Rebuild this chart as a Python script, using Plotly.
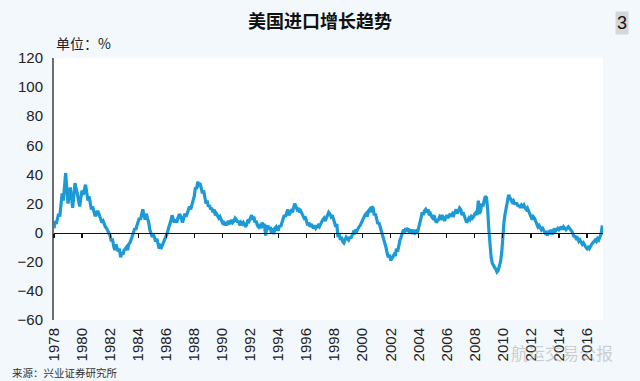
import plotly.graph_objects as go
import pandas as pd

# Monthly YoY growth of US imports (%), Jan 1978 onward
start_month = "1978-01-01"
growth = [
    3, 8, 6, 10, 13, 11, 18, 27, 22, 35, 41, 30,          # 1978
    20, 28, 31, 24, 17, 25, 34, 30, 27, 22, 18, 24,       # 1979
    29, 26, 31, 33, 28, 22, 25, 20, 16, 18, 14, 12,       # 1980
    12, 15, 14, 11, 9, 7, 8, 5, 4, 3, 1, 0,               # 1981
    -2, -6, -4, -9, -12, -8, -10, -13, -11, -17, -14, -15,  # 1982
    -12, -11, -10, -12, -8, -7, -5, -3, 0, 3, 2, 5,       # 1983
    7, 10, 9, 13, 16, 12, 9, 13, 10, 7, 2, 0,             # 1984
    -3, -1, -4, -6, -4, -8, -11, -9, -10, -8, -6, -5,     # 1985
    -3, 0, 3, 5, 8, 12, 10, 7, 9, 7, 10, 12,              # 1986
    12, 9, 7, 10, 13, 11, 13, 15, 18, 16, 19, 20,         # 1987
    25, 31, 30, 35, 33, 34, 31, 27, 29, 25, 20, 22,       # 1988
    18, 19, 16, 17, 14, 16, 12, 13, 11, 10, 11, 9,        # 1989
    7, 8, 5, 7, 5, 8, 7, 6, 9, 7, 8, 10,                  # 1990
    9, 7, 8, 5, 7, 6, 7, 5, 4, 6, 9, 8,                   # 1991
    10, 12, 9, 11, 7, 8, 5, 4, 6, 3, 7, 5,                # 1992
    6, -2, 3, 5, 2, 4, 0, 3, -1, 3, 4, 2,                 # 1993
    2, 5, 4, 7, 9, 12, 11, 14, 16, 12, 14, 15,            # 1994
    14, 17, 20, 18, 16, 17, 14, 15, 13, 12, 10, 11,       # 1995
    8, 5, 7, 4, 6, 4, 3, 5, 3, 4, 5, 4,                   # 1996
    6, 7, 9, 10, 8, 10, 12, 14, 13, 11, 12, 10,           # 1997
    7, 4, 6, -3, -1, -5, -3, -6, -7, -5, -3, -4,          # 1998
    -5, -3, -4, -2, 0, -1, 2, 1, 3, 4, 5, 7,              # 1999
    9, 10, 12, 13, 11, 15, 16, 14, 18, 17, 12, 13,        # 2000
    9, 6, 7, 4, 2, 0, -4, -6, -10, -14, -17, -15,         # 2001
    -19, -18, -17, -15, -16, -11, -13, -8, -5, -3, 0, 2,  # 2002
    1, 3, 2, 3, 0, 1, 2, -1, 2, 0, 1, 0,                  # 2003
    3, 7, 10, 14, 12, 15, 16, 14, 16, 12, 13, 11,         # 2004
    10, 12, 9, 7, 8, 9, 11, 10, 12, 9, 8, 10,             # 2005
    12, 10, 11, 13, 11, 13, 12, 14, 16, 13, 15, 17,       # 2006
    16, 12, 14, 11, 9, 7, 8, 10, 9, 11, 10, 11,           # 2007
    13, 14, 12, 22, 13, 15, 20, 18, 22, 25, 24, 16,       # 2008
    2, -12, -17, -21, -23, -24, -25, -27, -26, -23, -20, -14,  # 2009
    0, 8, 13, 18, 20, 26, 24, 22, 21, 22, 20, 20,         # 2010
    20, 18, 19, 17, 19, 18, 19, 17, 16, 17, 15, 14,       # 2011
    12, 9, 11, 10, 8, 6, 4, 5, 3, 2, 3, 1,                # 2012
    0, 1, -2, 0, -1, 2, -1, 0, 3, 1, 2, 3,                # 2013
    2, 3, 4, 2, 4, 3, 2, 3, 4, 3, 2, 1,                   # 2014
    -1, -3, -2, -5, -4, -6, -5, -7, -8, -7, -9, -10,      # 2015
    -11, -10, -11, -9, -8, -7, -6, -5, -6, -4, -5, -3,    # 2016
    -1, 5,                                                # 2017
]

tick_years = list(range(1978, 2017, 2))
tick_vals = [f"{y}-01-01" for y in tick_years]
tick_text = [str(y) for y in tick_years]
y_ticks = [-60, -40, -20, 0, 20, 40, 60, 80, 100, 120]

title_text = "美国进口增长趋势"
unit_text = "单位：%"
source_text = "来源：兴业证券研究所"
page_no = "3"
watermark = "航运交易公报"

dates = pd.date_range(start_month, periods=len(growth), freq="MS")

x_range = ["1978-01-01", "2017-02-20"]

fig = go.Figure()
fig.add_trace(go.Scatter(
    x=dates, y=growth, mode="lines",
    line=dict(color="#1b9ad6", width=3.2),
    hoverinfo="skip", showlegend=False,
))
# helper trace for the zero-line axis with ticks
fig.add_trace(go.Scatter(
    x=[dates[0]], y=[None], xaxis="x2", mode="lines",
    showlegend=False, hoverinfo="skip",
))

fig.update_layout(
    width=640, height=381,
    paper_bgcolor="#f2f8fc",
    plot_bgcolor="#ffffff",
    margin=dict(l=54, r=37, t=58, b=61),
    font=dict(family="Liberation Sans, Arial, sans-serif", color="#222222", size=15),
    xaxis=dict(
        type="date", range=x_range,
        tickmode="array", tickvals=tick_vals, ticktext=tick_text,
        tickangle=-90, showgrid=False, zeroline=False, showline=False,
        ticks="", ticklabelstandoff=4,
        tickfont=dict(size=15, color="#222222"),
    ),
    xaxis2=dict(
        type="date", range=x_range, overlaying="x", anchor="free",
        position=1/3, side="bottom",
        tickmode="array", tickvals=tick_vals,
        showticklabels=False, showgrid=False, zeroline=False,
        showline=True, linecolor="#111111", linewidth=1.5,
        ticks="outside", ticklen=4, tickwidth=1.2, tickcolor="#111111",
    ),
    yaxis=dict(
        range=[-60, 120], tickmode="array", tickvals=y_ticks,
        showgrid=False, zeroline=False,
        showline=True, linecolor="#6e6e6e", linewidth=2,
        ticks="", ticklabelstandoff=6,
        tickfont=dict(size=15, color="#222222"),
    ),
    annotations=[
        dict(text=f"<b>{title_text}</b>", xref="paper", yref="paper",
             x=(320 - 54) / 549, y=1, yshift=38, showarrow=False,
             xanchor="center", yanchor="middle",
             font=dict(family="Noto Sans CJK SC", size=18, color="#111111")),
        dict(text=unit_text, xref="paper", yref="paper",
             x=0, y=1, yshift=3, xanchor="left", yanchor="bottom", showarrow=False,
             font=dict(family="Noto Sans CJK SC", size=14, color="#222222")),
        dict(text=page_no, xref="paper", yref="paper",
             x=1, xshift=19, y=1, yshift=35, showarrow=False,
             xanchor="center", yanchor="middle", bgcolor="#d6d6d6",
             borderpad=1,
             font=dict(family="Liberation Sans", size=18, color="#111111")),
        dict(text=source_text, xref="paper", yref="paper",
             x=0, xshift=-44, y=0, yshift=-52, xanchor="left", yanchor="middle",
             showarrow=False,
             font=dict(family="Noto Sans CJK SC", size=10.5, color="#333333")),
        dict(text=watermark, xref="paper", yref="paper",
             x=1, xshift=12, y=0, yshift=-32, xanchor="right", yanchor="middle",
             showarrow=False,
             font=dict(family="Noto Sans CJK SC", size=17, color="rgba(170,170,170,0.55)")),
    ],
)

fig.write_html(
    "out.html",
    config={"displayModeBar": False, "staticPlot": True},
    post_script="document.body.style.margin='0';document.body.style.overflow='hidden';",
)
